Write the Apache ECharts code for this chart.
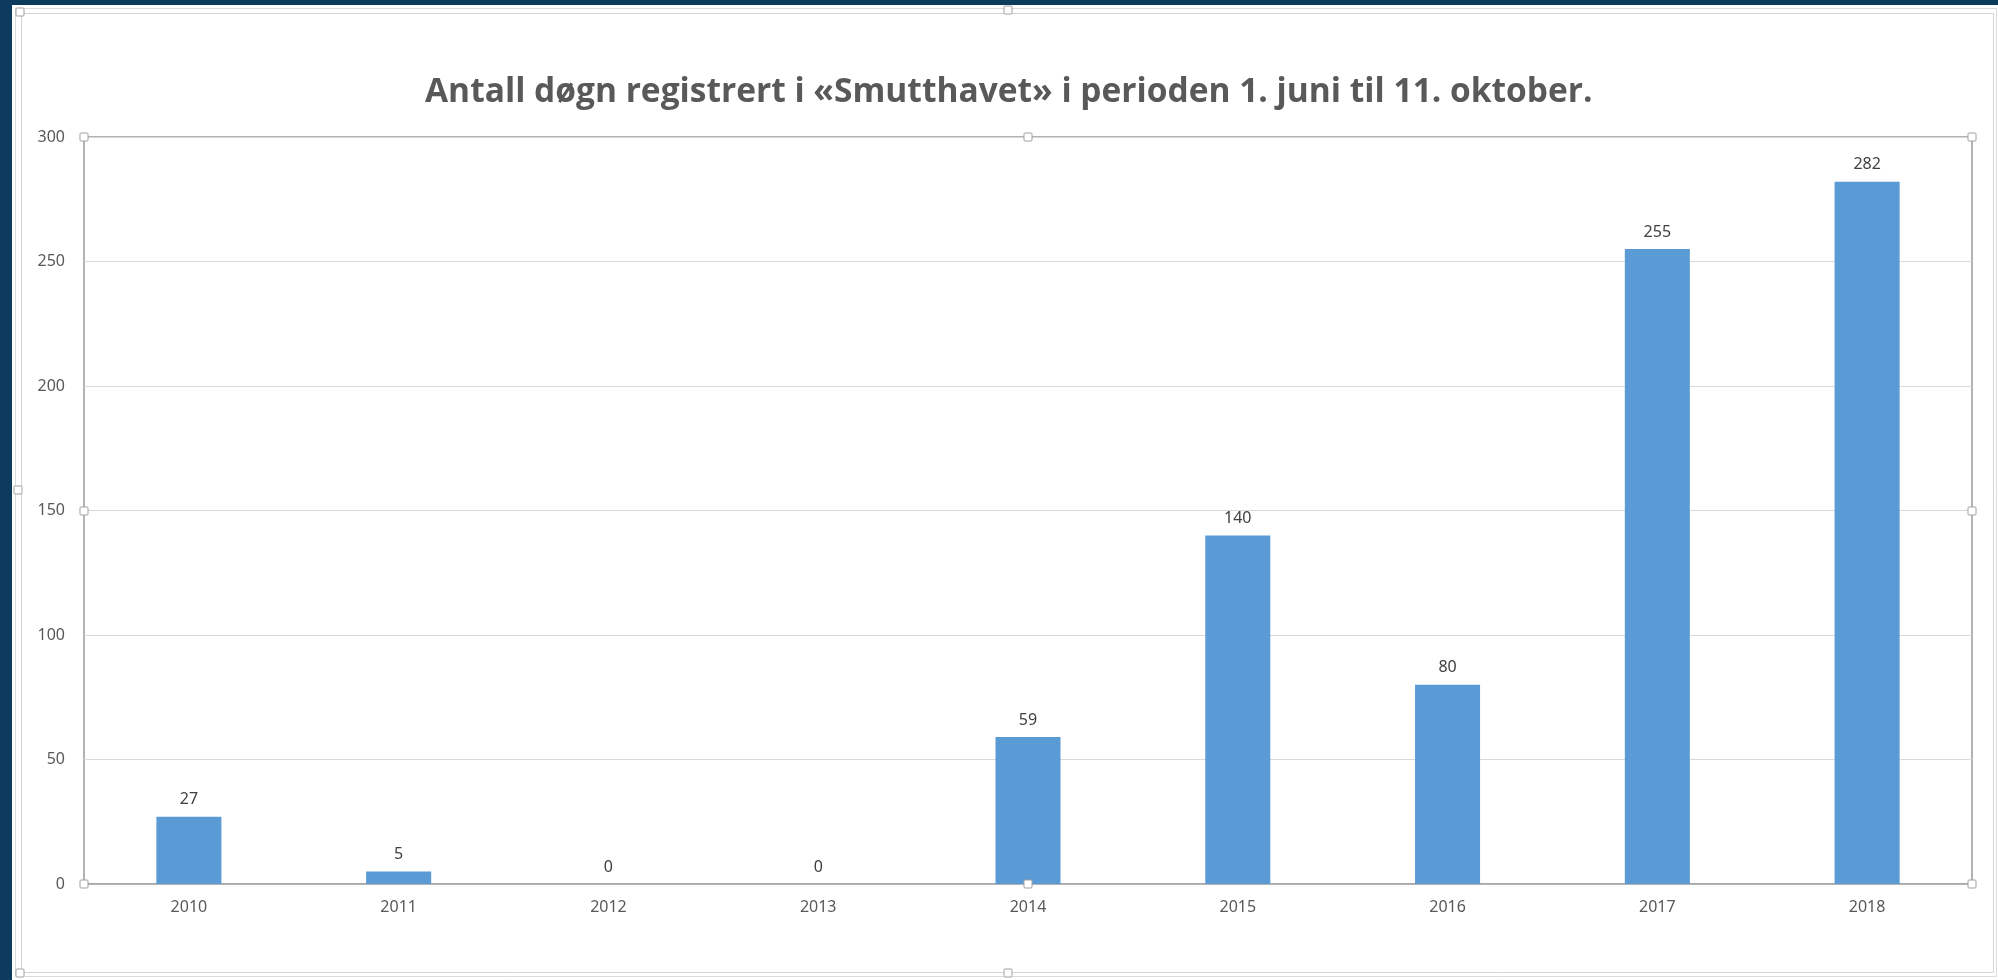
<!DOCTYPE html>
<html>
<head>
<meta charset="utf-8">
<script src="https://cdn.jsdelivr.net/npm/echarts@6/dist/echarts.min.js"></script>
<style>
html,body{margin:0;padding:0;background:#fff;}
#c{width:1998px;height:980px;}
</style>
</head>
<body>
<div id="c"></div>
<script>
const titleText = 'Antall døgn registrert i «Smutthavet» i perioden 1. juni til 11. oktober.';
const categories = ['2010','2011','2012','2013','2014','2015','2016','2017','2018'];
const values = [27, 5, 0, 0, 59, 140, 80, 255, 282];
const yMin = 0, yMax = 300, yInterval = 50;

const chart = echarts.init(document.getElementById('c'), null, {renderer: 'canvas'});

const gl = 84, gt = 137, gr = 1972, gb = 884;
function handle(x, y) {
  return {type: 'rect', shape: {x: x - 4, y: y - 4, width: 8, height: 8, r: 1},
    style: {fill: '#fff', stroke: '#a0a0a0', lineWidth: 1}, z: 100};
}
const midX = 1028, midY = 511;

const option = {
  animation: false,
  backgroundColor: '#ffffff',
  title: {
    text: titleText,
    left: 425,
    top: 75,
    padding: 0,
    textStyle: {fontFamily: 'Open Sans', fontWeight: 'bold', fontSize: 33.5, color: '#595959'}
  },
  grid: {left: gl, right: 1998 - gr, top: gt, bottom: 980 - gb, show: true,
    borderColor: '#9a9a9a', borderWidth: 1.5, containLabel: false},
  xAxis: {
    type: 'category', data: categories,
    axisLine: {show: true, lineStyle: {color: '#a6a6a6', width: 1.5}},
    axisTick: {show: false},
    axisLabel: {color: '#595959', fontSize: 16, fontFamily: 'Noto Sans', margin: 15}
  },
  yAxis: {
    type: 'value', min: yMin, max: yMax, interval: yInterval,
    axisLine: {show: false}, axisTick: {show: false},
    axisLabel: {color: '#595959', fontSize: 16, fontFamily: 'Noto Sans', margin: 19},
    splitLine: {lineStyle: {color: '#d9d9d9', width: 1}}
  },
  series: [{
    type: 'bar', data: values, barWidth: '31%',
    itemStyle: {color: '#5b9bd5'},
    label: {show: true, position: 'top', distance: 9, color: '#404040', fontSize: 16, fontFamily: 'Noto Sans'}
  }],
  graphic: [
    {type: 'rect', shape: {x: 0, y: 0, width: 12, height: 980}, style: {fill: '#0d3b5e'}, z: 90},
    {type: 'rect', shape: {x: 0, y: 0, width: 1998, height: 5}, style: {fill: '#0d3b5e'}, z: 90},
    {type: 'rect', shape: {x: 15.5, y: 8.5, width: 1981, height: 968}, style: {fill: null, stroke: '#dcdcdc', lineWidth: 1}, z: 90},
    {type: 'rect', shape: {x: 21.5, y: 13.5, width: 1972, height: 959}, style: {fill: null, stroke: '#d4d4d4', lineWidth: 1}, z: 90},
    handle(gl, gt), handle(midX, gt), handle(gr, gt),
    handle(gl, midY), handle(gr, midY),
    handle(gl, gb), handle(midX, gb), handle(gr, gb),
    handle(1008, 10), handle(1008, 973), handle(18, 490), handle(20, 12), handle(20, 973)
  ]
};
chart.setOption(option);
</script>
</body>
</html>
